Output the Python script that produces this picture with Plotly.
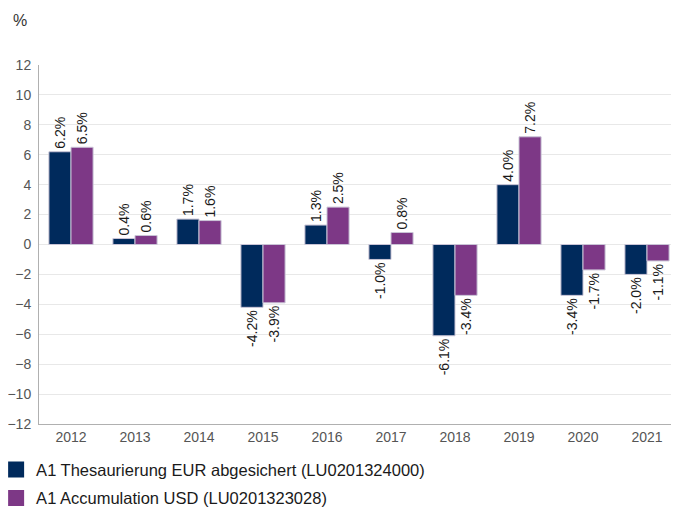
import plotly.graph_objects as go

years = ["2012", "2013", "2014", "2015", "2016", "2017", "2018", "2019", "2020", "2021"]
eur_hedged = [6.2, 0.4, 1.7, -4.2, 1.3, -1.0, -6.1, 4.0, -3.4, -2.0]
usd_acc = [6.5, 0.6, 1.6, -3.9, 2.5, 0.8, -3.4, 7.2, -1.7, -1.1]
series_names = ["A1 Thesaurierung EUR abgesichert (LU0201324000)",
                "A1 Accumulation USD (LU0201323028)"]
y_ticks = [-12, -10, -8, -6, -4, -2, 0, 2, 4, 6, 8, 10, 12]

colors = ["#002a5c", "#7d3886"]
font_family = "Liberation Sans, Arial, sans-serif"

fig = go.Figure()
for name, vals, col in zip(series_names, [eur_hedged, usd_acc], colors):
    fig.add_trace(go.Bar(
        x=years, y=vals, name=name, showlegend=False,
        marker=dict(color=col, line=dict(color="#c9c4d6", width=1)),
        texttemplate="%{y:.1f}%", textposition="outside", textangle=-90,
        constraintext="none",
        textfont=dict(size=14, color="#1a1a1a", family=font_family),
        cliponaxis=False,
    ))
# legend entries (larger square swatches)
for i, (name, col) in enumerate(zip(series_names, colors)):
    fig.add_trace(go.Scatter(
        x=[None], y=[None], mode="markers", name=name, legendgroup=f"g{i}",
        marker=dict(symbol="square", size=16, color=col),
    ))

fig.update_layout(
    width=671, height=501,
    margin=dict(l=31, r=0, t=57, b=85, autoexpand=False),
    paper_bgcolor="white", plot_bgcolor="white",
    barmode="group", bargap=0.31, bargroupgap=0,
    font=dict(family=font_family, size=14, color="#555555"),
    showlegend=True,
    legend=dict(orientation="v", x=-0.067, xanchor="left", y=-0.079, yanchor="top",
                font=dict(size=16.5, color="#1a1a1a"), tracegroupgap=4,
                traceorder="grouped", bgcolor="rgba(0,0,0,0)"),
    xaxis=dict(type="category", showgrid=False, showline=True, linecolor="#b0b0b0",
               linewidth=1, ticks="", tickfont=dict(size=14, color="#555555")),
    yaxis=dict(range=[-12, 12], tickvals=y_ticks, showgrid=True, gridcolor="#e8e8e8",
               gridwidth=1, zeroline=True, zerolinecolor="#e8e8e8", zerolinewidth=1,
               showline=True, linecolor="#b0b0b0", linewidth=1,
               tickfont=dict(size=14, color="#555555"), ticklabelstandoff=4),
    annotations=[dict(text="%", x=-0.03, y=1.125, xref="paper", yref="paper",
                      xanchor="center", yanchor="middle",
                      showarrow=False, font=dict(size=16, color="#333333"))],
)

fig.write_html("out.html")
